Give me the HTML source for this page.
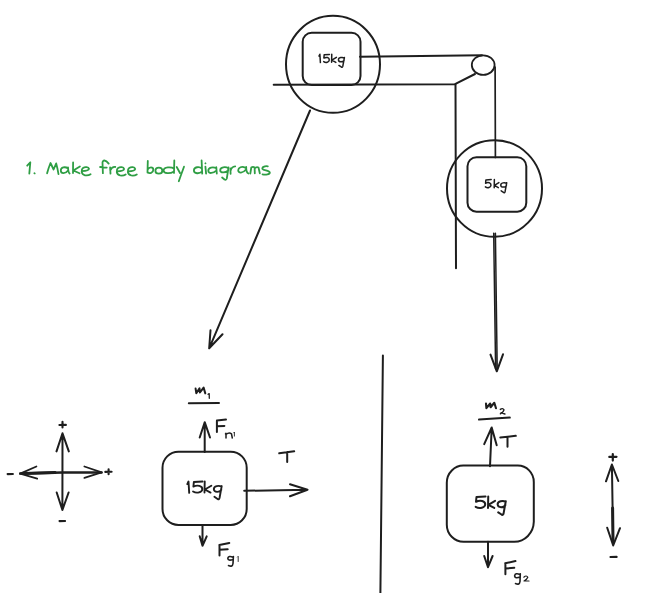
<!DOCTYPE html>
<html><head><meta charset="utf-8">
<style>
html,body{margin:0;padding:0;background:#ffffff;width:654px;height:593px;overflow:hidden;}
svg{display:block;}
text{font-family:"Liberation Sans",sans-serif;}
</style></head>
<body>
<svg width="654" height="593" viewBox="0 0 654 593">
<rect x="0" y="0" width="654" height="593" fill="#ffffff"/>
<g fill="none" stroke="#1e1e1e" stroke-width="2" stroke-linecap="round" stroke-linejoin="round">
  <!-- top setup -->
  <ellipse cx="333" cy="64.3" rx="47" ry="48.5"/>
  <rect x="302.7" y="32.7" width="57.8" height="52.3" rx="9" ry="9"/>
  <path d="M360 56.7 L482 55.3"/>
  <path d="M273.7 84.7 L455 84.2 L475 74"/>
  <path d="M455.5 84.2 L456 268.3"/>
  <ellipse cx="483.2" cy="65.1" rx="11.4" ry="9.8" stroke-width="1.8"/>
  <path d="M495.1 67 L495.4 157.5" stroke-width="1.7"/>
  <ellipse cx="494.5" cy="188.5" rx="47.5" ry="48.3"/>
  <rect x="467.5" y="157.2" width="58.8" height="54.5" rx="9" ry="9"/>
  <path d="M493.7 233.3 L495.6 369 M495.4 233.3 L497.2 369" stroke-width="1.5"/>
  <path d="M490.5 354.6 L496.8 371.3 L503 354.3"/>
  <path d="M310 110.5 L209.2 348.3 M210.5 330.3 L209.2 348.3 L222.5 334.2"/>

  <!-- axis cross -->
  <path d="M62.5 433.3 L62.4 510 M56.5 451.4 L62.5 433.3 L68.8 451.4 M56.7 492.5 L62.4 510 L68.6 492.5"/>
  <path d="M36.4 466.5 L20.2 473.6 L37.2 478.7 M84.4 466.5 L101.6 472.4 L84.4 477.9" stroke-width="1.8"/>
  <path d="M20.2 473.6 L62.5 472.4 L101.6 472.4" stroke-width="2.5"/>
  <path d="M24 473.4 L55 472.5" stroke-width="3"/>
  <path d="M59.4 425 L65.9 424.9 M62.5 421.8 L62.5 427.5 M7.6 474.1 L12.9 474 M105.3 471.9 L111.6 471.8 M108.6 469.2 L108.6 474.2 M59.5 521.1 L65.1 521" stroke-width="2.1"/>

  <!-- FBD 1 -->
  <path d="M188.8 403.3 L219 403.1"/>
  <path d="M204.7 452 L204.7 422.2 M199.7 437.5 L204.7 422.2 L210 437.5"/>
  <rect x="162.5" y="451.7" width="84.2" height="73.3" rx="16" ry="16"/>
  <path d="M244.2 490.8 L307.5 489.7 M290 484.2 L307.5 489.7 L290 496.3"/>
  <path d="M279.2 453.3 L294.2 451.3 M287.2 452 L287.2 462"/>
  <path d="M202.5 525 L202.5 545.8 M199.7 536.3 L202.5 545.8 L206.7 536.3"/>
  <!-- F n1 -->
  <path d="M216.9 421 L216.9 432 M216.9 420.6 L226 419.6 M217 426.2 L224.4 425.9"/>
  <!-- F g1 -->
  <path d="M219.5 545 L219.5 555.4 M219.3 545 L229.3 542.9 M219.5 549.7 L227.7 549.3"/>

  <!-- separator -->
  <path d="M382.9 355.5 L380.4 593"/>

  <!-- FBD 2 -->
  <path d="M479 419.6 L509.8 417.6"/>
  <path d="M490 466.3 L491.7 427.5 M484.2 444.2 L491.7 427.5 L496.7 445.3"/>
  <path d="M500.3 437.5 L515.8 435.8 M507.5 437 L507.5 446.7"/>
  <path d="M463.8 465.6 L517.8 465.6 A16 16.4 0 0 1 533.8 482 L533.8 521.8 A19.5 20.5 0 0 1 514.3 541.8 L463.6 541.8 A16.8 17 0 0 1 446.8 524.8 L446.8 482.8 A16.5 17.2 0 0 1 463.8 465.6 Z"/>
  <path d="M488 541.8 L488 567.2 M484.2 556 L488 567.2 L492.6 556"/>
  <path d="M505.4 563.5 L505.4 574.3 M505.2 563.3 L515.5 561.1 M505.5 568.5 L514.3 567.8"/>

  <!-- right arrow -->
  <path d="M611.9 464.5 L613.2 545.5 M606 481.3 L611.9 464.5 L618.3 481 M607.2 527.7 L613.2 545.5 L620 528.2"/>
  <path d="M612.6 508 L613 541" stroke-width="3"/>
  <path d="M609.3 456.9 L616.5 456.8 M612.8 454 L612.8 460.6 M610.5 557 L616.6 556.9" stroke-width="2.2"/>
</g>
<g fill="none" stroke="#1e1e1e" stroke-linecap="round" stroke-linejoin="round">
  <path transform="translate(187.3 481.5) scale(11.4)" d="M0 0.23 L0.105 0 L0.167 1.0" stroke-width="1.9" vector-effect="non-scaling-stroke"/>
  <path transform="translate(193.4 481.5) scale(11.4)" d="M0.81 0 L0.04 0.05 L0 0.45 C0.35 0.28 0.8 0.38 0.78 0.68 C0.76 0.95 0.3 1.08 -0.03 0.88" stroke-width="1.9" vector-effect="non-scaling-stroke"/>
  <path transform="translate(204.5 481.5) scale(11.4)" d="M0.02 0 L0 0.97 M0.6 0.37 L0.03 0.7 L0.53 0.97" stroke-width="1.9" vector-effect="non-scaling-stroke"/>
  <path transform="translate(213.6 481.5) scale(11.4)" d="M0.7 0.45 C0.5 0.33 0.0 0.36 0.02 0.68 C0.05 1.0 0.55 0.95 0.68 0.72 M0.71 0.4 L0.52 1.45 Q0.47 1.6 0.38 1.55 L0.07 1.34" stroke-width="1.9" vector-effect="non-scaling-stroke"/>
  <path transform="translate(319 54.2) scale(8.4)" d="M0 0.23 L0.105 0 L0.167 1.0" stroke-width="1.5" vector-effect="non-scaling-stroke"/>
  <path transform="translate(323.9 54.4) scale(6.9 8.2)" d="M0.81 0 L0.04 0.05 L0 0.45 C0.35 0.28 0.8 0.38 0.78 0.68 C0.76 0.95 0.3 1.08 -0.03 0.88" stroke-width="1.5" vector-effect="non-scaling-stroke"/>
  <path transform="translate(331.6 54.2) scale(8 8.4)" d="M0.02 0 L0 0.97 M0.6 0.37 L0.03 0.7 L0.53 0.97" stroke-width="1.5" vector-effect="non-scaling-stroke"/>
  <path transform="translate(338.3 54.2) scale(8.6 8.4)" d="M0.7 0.45 C0.5 0.33 0.0 0.36 0.02 0.68 C0.05 1.0 0.55 0.95 0.68 0.72 M0.71 0.4 L0.52 1.45 Q0.47 1.6 0.38 1.55 L0.07 1.34" stroke-width="1.5" vector-effect="non-scaling-stroke"/>
  <path transform="translate(476 496.5) scale(11.8)" d="M0.81 0 L0.04 0.05 L0 0.45 C0.35 0.28 0.8 0.38 0.78 0.68 C0.76 0.95 0.3 1.08 -0.03 0.88" stroke-width="2" vector-effect="non-scaling-stroke"/>
  <path transform="translate(488 496.5) scale(11.8)" d="M0.02 0 L0 0.97 M0.6 0.37 L0.03 0.7 L0.53 0.97" stroke-width="2" vector-effect="non-scaling-stroke"/>
  <path transform="translate(497.4 496.5) scale(11.8)" d="M0.7 0.45 C0.5 0.33 0.0 0.36 0.02 0.68 C0.05 1.0 0.55 0.95 0.68 0.72 M0.71 0.4 L0.52 1.45 Q0.47 1.6 0.38 1.55 L0.07 1.34" stroke-width="2" vector-effect="non-scaling-stroke"/>
  <path transform="translate(485.6 179.6) scale(6.9 8.2)" d="M0.81 0 L0.04 0.05 L0 0.45 C0.35 0.28 0.8 0.38 0.78 0.68 C0.76 0.95 0.3 1.08 -0.03 0.88" stroke-width="1.5" vector-effect="non-scaling-stroke"/>
  <path transform="translate(494.2 179.5) scale(7.8 8.4)" d="M0.02 0 L0 0.97 M0.6 0.37 L0.03 0.7 L0.53 0.97" stroke-width="1.5" vector-effect="non-scaling-stroke"/>
  <path transform="translate(500.6 179.5) scale(8.6 8.4)" d="M0.7 0.45 C0.5 0.33 0.0 0.36 0.02 0.68 C0.05 1.0 0.55 0.95 0.68 0.72 M0.71 0.4 L0.52 1.45 Q0.47 1.6 0.38 1.55 L0.07 1.34" stroke-width="1.5" vector-effect="non-scaling-stroke"/>
</g>
<g fill="none" stroke="#1e1e1e" stroke-linecap="round" stroke-linejoin="round">
  <!-- m1 -->
  <path d="M195.6 388.6 L196.3 393.2 L199.5 388.4 L199.9 392.5 L203.6 387.6 L205.3 393.4" stroke-width="2"/>
  <path d="M208.1 394.3 L209.2 393.6 L209.3 398.3" stroke-width="1.3"/>
  <!-- n1 subscript -->
  <path d="M225.5 434 L226 433.3 L226 438.1 M226 434.5 Q229 432 231.5 433.8 L232.3 438" stroke-width="1.5"/>
  <path d="M233.8 432.8 L234.4 432 L234.4 436.1" stroke-width="0.9"/>
  <!-- g1 subscript -->
  <path d="M233 557.2 Q228.5 555.3 227.8 558.3 Q228 561.2 233 559.5 M233.4 556.5 L233 563.5 Q232.5 567.5 228.5 565.5" stroke-width="1.6"/>
  <path d="M237.5 557 L238.2 556.3 L238.2 561.5" stroke-width="0.9"/>
  <!-- m2 -->
  <path d="M486 403.6 L486.4 408.2 L490.2 403.5 L490.6 407.2 L494.3 402.8 L496 408.2" stroke-width="2.1"/>
  <path d="M500.3 409.4 Q502.6 407.6 504 409.8 Q503.6 412 500.4 413.8 Q501.2 411.6 502.8 413.4 L504.9 414" stroke-width="1.4"/>
  <!-- g2 subscript -->
  <path d="M520 574.5 Q515.3 572.5 514.6 575.8 Q515 579 520 577 M520.3 573.8 L520 581.5 Q519.5 585.5 515.5 583.5" stroke-width="1.6"/>
  <path d="M523.8 577.2 Q526.5 574.8 527.8 577.3 Q527 579.5 524 581 L529 581" stroke-width="1.2"/>
</g>
<g fill="none" stroke="#2f9e44" stroke-width="1.8" stroke-linecap="round" stroke-linejoin="round">
  <path d="M27.2 165.7 L30.3 162.3 L29.3 173.7"/>
  <path d="M34.4 173.2 L34.7 173.4"/>
  <path d="M47.1 173.3 Q48.5 168 50.5 163 L53.6 169.5 L56.2 163.4 Q57.5 168 58.5 174.1"/>
  <path d="M68 168.5 C65 166.2 60.8 167.3 60.8 170.5 C60.8 174 65.5 174 68 170.5 M68 167.3 Q68.2 172.5 69.6 173.5"/>
  <path d="M73.1 162.4 L73 173.1 M79.9 166.5 L73.3 170.5 L79.5 173.3"/>
  <path d="M81.8 171.2 C85 171 89 170.5 89 168.8 C88.5 166.8 85 166.6 83 167.9 C80.8 169.5 81 174.5 85 175.3 C87.5 175.7 89.5 175 90.6 174.3"/>
  <path d="M102.9 173.2 L102.5 162.5 C102.6 160 105.5 159.3 108.7 163.6 M100.1 167 L106.7 167.6"/>
  <path d="M110.1 167.4 L110.5 173.6 M110.3 170.5 C111.5 167.5 113.5 166.8 115.3 167"/>
  <path d="M147.8 160.9 L147.5 172.5 M147.6 169.5 C149 166.8 153.3 166.5 153.3 169.8 C153.3 173 149.5 173.8 147.6 172.3"/>
  <path d="M158.85 167.7 C161 167.7 162.3 169 162.3 170.65 C162.3 172.5 160.8 173.6 158.85 173.6 C156.8 173.6 155.4 172.3 155.4 170.65 C155.4 169 156.8 167.7 158.85 167.7 Z"/>
  <path d="M174 168.5 C171.5 166.8 163.6 166.5 163.6 170.5 C163.6 173.8 170 174 174 171.5 M174.3 160.5 L174 172.9"/>
  <path d="M176.7 167 L180 173 M184 166.7 L181 175 L178.8 181.2"/>
  <path d="M201.9 168.5 C199.5 166.2 193.9 166.8 193.9 170.5 C193.9 174 199.5 174 201.9 171.5 M201.6 160.5 L202.2 173.6"/>
  <path d="M205.4 166.6 L206.1 173.6 M205.4 163.3 L205.5 163.4"/>
  <path d="M216.3 168.3 C213 166.5 208.3 167.5 208.3 170.8 C208.3 174 213.5 173.5 216.3 170.5 M216.3 167.2 L216.8 173.6"/>
  <path d="M228.5 168.2 C225.5 166.5 220.2 167 220.2 170.2 C220.2 173.3 225.5 173 228.3 170.5 M228.5 167.5 L226.8 178.5 Q226 180.5 224.5 179.5 L222.1 177.5"/>
  <path d="M230.4 168.5 L230.6 173.8 M230.5 171 C231.2 168 233 166.5 235.2 166.4"/>
  <path d="M245.3 167.8 C242 165.8 238.2 167.5 238.2 170.3 C238.2 173.5 243 173.3 246 169.5 M246.2 167 Q246 172.5 248.5 173.5"/>
  <path d="M250.3 173.5 L251.3 167.5 Q253 166.2 254.6 167.5 L254.8 173.3 M254.7 168.5 Q256.5 166.3 258.5 167.5 L259.8 173.3"/>
  <path d="M267.8 166.3 C264.5 165.8 261.5 167.5 262.5 169 C263.5 170.5 269.5 170.5 269.8 172.5 C270 174.5 265.5 175 262.5 174.3"/>
  <path transform="translate(35.1 0.1)" d="M81.8 171.2 C85 171 89 170.5 89 168.8 C88.5 166.8 85 166.6 83 167.9 C80.8 169.5 81 174.5 85 175.3 C87.5 175.7 89.5 175 90.6 174.3"/>
  <path transform="translate(46.2 0.1)" d="M81.8 171.2 C85 171 89 170.5 89 168.8 C88.5 166.8 85 166.6 83 167.9 C80.8 169.5 81 174.5 85 175.3 C87.5 175.7 89.5 175 90.6 174.3"/>
</g>
</svg>
</body></html>
